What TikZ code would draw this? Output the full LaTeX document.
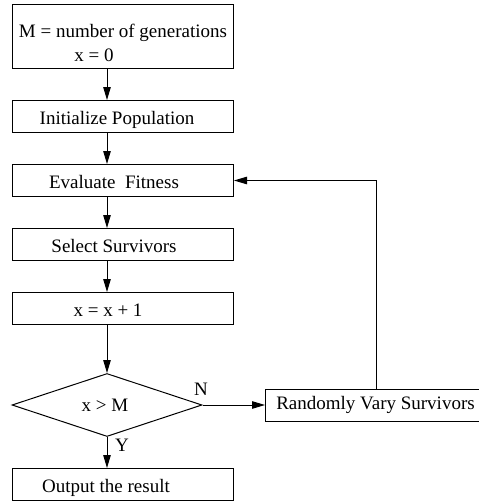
\documentclass[tikz,border=0pt]{standalone}
\usepackage{fontspec}
\setmainfont{Liberation Serif}
\usetikzlibrary{arrows.meta,shapes.geometric}
\begin{document}
\begin{tikzpicture}[x=1pt,y=-1pt,
  font=\fontsize{19}{23}\selectfont,
  line width=1pt,
  arr/.style={-{Triangle[length=13pt,width=7.5pt]}},
  boxnode/.style={draw,rectangle,inner sep=0pt,anchor=north west},
  txt/.style={inner sep=0pt,anchor=base},
]
\useasboundingbox (0,0) rectangle (479,501);
% boxes (corner positions)
\node[boxnode,minimum width=221pt,minimum height=64pt] (b0) at (12,4) {};
\node[boxnode,minimum width=221pt,minimum height=32pt] (b1) at (12,100) {};
\node[boxnode,minimum width=221pt,minimum height=32pt] (b2) at (12,164) {};
\node[boxnode,minimum width=221pt,minimum height=32pt] (b3) at (12,228) {};
\node[boxnode,minimum width=221pt,minimum height=32pt] (b4) at (12,292) {};
\node[draw,diamond,inner sep=0pt,aspect=3,minimum width=190pt,minimum height=63pt] (d) at (107,405) {};
\node[boxnode,minimum width=221pt,minimum height=32pt] (b5) at (12,468) {};
\node[boxnode,minimum width=220pt,minimum height=32pt] (r) at (265,388.5) {};
% texts
\node[txt] (t0a) at (123,37) {M = number of generations};
\node[txt] (t0b) at (94,61) {x = 0};
\node[txt] (t1) at (117,124.5) {Initialize Population};
\node[txt] (t2) at (114,188) {Evaluate\ \ Fitness};
\node[txt] (t3) at (114,252.5) {Select Survivors};
\node[txt] (t4) at (108,316.5) {x = x + 1};
\node[txt] (td) at (105,411.5) {x > M};
\node[txt] (t5) at (106,492) {Output the result};
\node[txt] (tr) at (375.5,409) {Randomly Vary Survivors};
\node[txt] (tn) at (201,395) {N};
\node[txt] (ty) at (122,451) {Y};
% connectors
\coordinate (ax) at (107,0);
\coordinate (fx) at (376,0);
\draw[arr] (b0.south -| ax) -- (b1.north -| ax);
\draw[arr] (b1.south -| ax) -- (b2.north -| ax);
\draw[arr] (b2.south -| ax) -- (b3.north -| ax);
\draw[arr] (b3.south -| ax) -- (b4.north -| ax);
\draw[arr] (b4.south -| ax) -- (d.north);
\draw[arr] (d.south) -- (b5.north -| ax);
\draw[arr] (d.east) -- (d.east -| r.west);
\draw[arr] (r.north -| fx) -- (b2.east -| fx) -- (b2.east);
\end{tikzpicture}
\end{document}
